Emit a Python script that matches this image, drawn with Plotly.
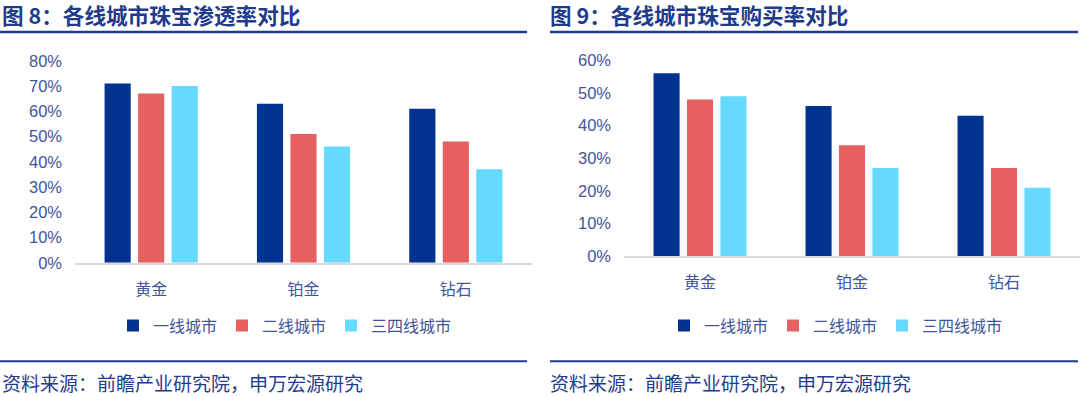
import plotly.graph_objects as go

categories = ["黄金", "铂金", "钻石"]
series_names = ["一线城市", "二线城市", "三四线城市"]
colors = ["#00338F", "#E66060", "#66D9FF"]

# 图8 渗透率 (%)
penetration_tier1 = [71, 63, 61]
penetration_tier2 = [67, 51, 48]
penetration_tier34 = [70, 46, 37]

# 图9 购买率 (%)
purchase_tier1 = [56, 46, 43]
purchase_tier2 = [48, 34, 27]
purchase_tier34 = [49, 27, 21]

left_ticks = [0, 10, 20, 30, 40, 50, 60, 70, 80]
right_ticks = [0, 10, 20, 30, 40, 50, 60]

title_left = "图 8：各线城市珠宝渗透率对比"
title_right = "图 9：各线城市珠宝购买率对比"
source_text = "资料来源：前瞻产业研究院，申万宏源研究"

TICK_COLOR = "#43559A"
NAVY = "#1F3C8C"
CJK = "Noto Sans CJK SC, Noto Sans, sans-serif"
LATIN = "Liberation Sans, Arial, sans-serif"

W, H = 1080, 404
# measured mapping between figure pixels and the photographed picture (vertical)
OFF, SC = 8.0, 0.96

def px_x(x):
    return x / W

def px_y(t):
    y = (t - OFF) / SC
    return 1 - y / H

fig = go.Figure()

left_series = [penetration_tier1, penetration_tier2, penetration_tier34]
right_series = [purchase_tier1, purchase_tier2, purchase_tier34]

for name, vals, c in zip(series_names, left_series, colors):
    fig.add_trace(go.Bar(x=categories, y=vals, name=name, marker=dict(color=c, line=dict(width=0)),
                         xaxis="x", yaxis="y", legend="legend", hoverinfo="skip"))
for name, vals, c in zip(series_names, right_series, colors):
    fig.add_trace(go.Bar(x=categories, y=vals, name=name, marker=dict(color=c, line=dict(width=0)),
                         xaxis="x2", yaxis="y2", legend="legend2", hoverinfo="skip"))

xaxis_common = dict(
    type="category", showgrid=False, zeroline=False, showline=True,
    linecolor="#D9D9D9", linewidth=1.5, ticks="",
    tickfont=dict(family=CJK, size=16, color=TICK_COLOR),
    ticklabelstandoff=11, fixedrange=True,
)
yaxis_common = dict(
    showgrid=False, zeroline=False, showline=False, ticks="",
    tickfont=dict(family=LATIN, size=16.5, color=TICK_COLOR),
    ticklabelstandoff=12, fixedrange=True, tickmode="array",
)

fig.update_layout(
    width=W, height=H,
    margin=dict(l=0, r=0, t=0, b=0),
    paper_bgcolor="white", plot_bgcolor="white",
    barmode="group", bargap=0.34, bargroupgap=0.22,
    xaxis=dict(domain=[px_x(75), px_x(532)], anchor="y", **xaxis_common),
    yaxis=dict(domain=[px_y(263), px_y(60)], range=[0, 80], tickvals=left_ticks,
               ticktext=[f"{v}%" for v in left_ticks], anchor="x", **yaxis_common),
    xaxis2=dict(domain=[px_x(624), 1.0], anchor="y2", **xaxis_common),
    yaxis2=dict(domain=[px_y(256.5), px_y(59.5)], range=[0, 60], tickvals=right_ticks,
                ticktext=[f"{v}%" for v in right_ticks], anchor="x2", **yaxis_common),
    legend=dict(orientation="h", x=px_x(285), y=px_y(326), xanchor="center", yanchor="middle",
                font=dict(family=CJK, size=16, color=TICK_COLOR), bgcolor="rgba(0,0,0,0)",
                itemclick=False, itemdoubleclick=False, tracegroupgap=0),
    legend2=dict(orientation="h", x=px_x(836), y=px_y(326), xanchor="center", yanchor="middle",
                 font=dict(family=CJK, size=16, color=TICK_COLOR), bgcolor="rgba(0,0,0,0)",
                 itemclick=False, itemdoubleclick=False, tracegroupgap=0),
    showlegend=True,
)

for x0, txt in [(0, title_left), (548, title_right)]:
    fig.add_annotation(text="<b>" + txt + "</b>", x=px_x(x0), y=px_y(13.5), xref="paper", yref="paper",
                       xanchor="left", yanchor="middle", showarrow=False,
                       font=dict(family=CJK, size=21.6, color=NAVY))
for x0 in [0, 548]:
    fig.add_annotation(text=source_text, x=px_x(x0), y=px_y(383), xref="paper", yref="paper",
                       xanchor="left", yanchor="middle", showarrow=False,
                       font=dict(family=CJK, size=19, color=NAVY))

for (x0, x1) in [(0, 527), (550, 1078)]:
    fig.add_shape(type="line", xref="paper", yref="paper", x0=px_x(x0), x1=px_x(x1),
                  y0=px_y(31), y1=px_y(31), line=dict(color="#1F3C8C", width=2.5))
    fig.add_shape(type="line", xref="paper", yref="paper", x0=px_x(x0), x1=px_x(x1),
                  y0=px_y(362), y1=px_y(362), line=dict(color="#1F3C8C", width=2))

fig.write_html(
    "out.html",
    config={"displayModeBar": False, "responsive": False},
    post_script=(
        "document.documentElement.style.margin='0';"
        "document.documentElement.style.padding='0';"
        "document.documentElement.style.overflow='hidden';"
        "document.body.style.margin='0';"
        "document.body.style.padding='0';"
        "document.body.style.overflow='hidden';"
    ),
)
